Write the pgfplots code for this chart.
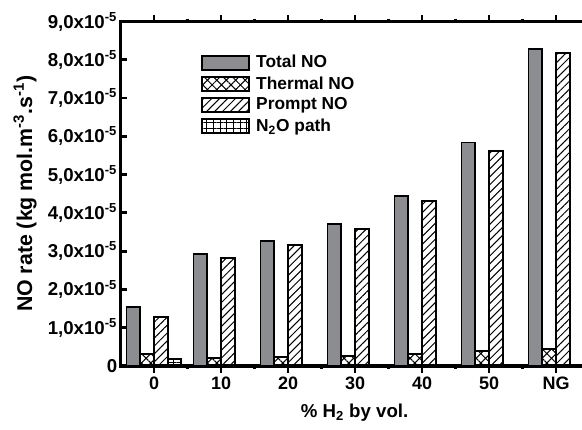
\documentclass[border=0pt]{standalone}
\usepackage{fontspec}
\setmainfont{Liberation Sans}
\usepackage{pgfplots}
\pgfplotsset{compat=1.18}
\usetikzlibrary{patterns.meta}
\definecolor{bargray}{RGB}{140,141,145}
\begin{document}
\begin{tikzpicture}
\begin{axis}[
  scale only axis,
  width=351.75pt, height=258.4pt,
  xmin=-0.5, xmax=6.5, ymin=0, ymax=9,
  axis line style={line width=2.6pt},
  every tick/.style={black, line width=2.2pt},
  tick align=inside,
  major tick length=5pt,
  minor tick length=2.2pt,
  xtick={0,...,6},
  xticklabels={0,10,20,30,40,50,NG},
  minor xtick={0.5,1.5,2.5,3.5,4.5,5.5},
  ytick={0,...,9},
  yticklabels={0,{1,0x10\textsuperscript{-5}},{2,0x10\textsuperscript{-5}},{3,0x10\textsuperscript{-5}},{4,0x10\textsuperscript{-5}},{5,0x10\textsuperscript{-5}},{6,0x10\textsuperscript{-5}},{7,0x10\textsuperscript{-5}},{8,0x10\textsuperscript{-5}},{9,0x10\textsuperscript{-5}}},
  xticklabel style={font=\bfseries\fontsize{13.5}{15}\selectfont},
  yticklabel style={font=\bfseries\fontsize{14}{15}\selectfont, xshift=1pt},
  ylabel={NO rate (kg mol.m\textsuperscript{-3}.s\textsuperscript{-1})},
  xlabel={\% H\textsubscript{2} by vol.},
  ylabel style={font=\bfseries\fontsize{16}{18}\selectfont, at={(axis description cs:-0.2036,0.5)}, anchor=center},
  xlabel style={font=\bfseries\fontsize{14}{16}\selectfont, at={(axis description cs:0.499,0)}, anchor=center, yshift=-35pt},
  ybar, bar width=0.205,
  legend image code/.code={\draw[#1,line width=1.4pt] (0pt,-5.25pt) rectangle (35.25pt,5.25pt); \path (38pt,0pt);},
  legend style={draw=none, fill=none, at={(axis description cs:0.171,0.91)}, anchor=north west,
    font=\bfseries\fontsize{13}{14}\selectfont, row sep=1pt, inner sep=0pt},
  legend cell align=left,
]
\addplot[draw=black, line width=1.4pt, fill=bargray, bar shift=-0.3075] coordinates {(0,1.54) (1,2.93) (2,3.27) (3,3.71) (4,4.44) (5,5.84) (6,8.29)};
\addlegendentry{Total NO}
\addplot[draw=black, line width=1.4pt, fill=white, pattern={Hatch[angle=45,distance=5pt,line width=0.75pt]}, bar shift=-0.1025] coordinates {(0,0.31) (1,0.21) (2,0.23) (3,0.26) (4,0.31) (5,0.40) (6,0.44)};
\addlegendentry{Thermal NO}
\addplot[draw=black, line width=1.4pt, fill=white, pattern={Lines[angle=45,distance=4.2pt,line width=0.75pt]}, bar shift=0.1025] coordinates {(0,1.29) (1,2.82) (2,3.16) (3,3.57) (4,4.31) (5,5.62) (6,8.18)};
\addlegendentry{Prompt NO}
\addplot[draw=black, line width=1.4pt, fill=white, pattern={Hatch[angle=0,distance=5pt,line width=0.75pt]}, bar shift=0.3075] coordinates {(0,0.18) (1,0) (2,0) (3,0) (4,0) (5,0) (6,0)};
\addlegendentry{N\textsubscript{2}O path}
\coordinate (SW) at (rel axis cs:0,0);
\end{axis}
\pgfresetboundingbox
\path ([xshift=-90.4pt,yshift=-47.25pt]SW) rectangle ++(436.5pt,321.75pt);
\end{tikzpicture}
\end{document}
